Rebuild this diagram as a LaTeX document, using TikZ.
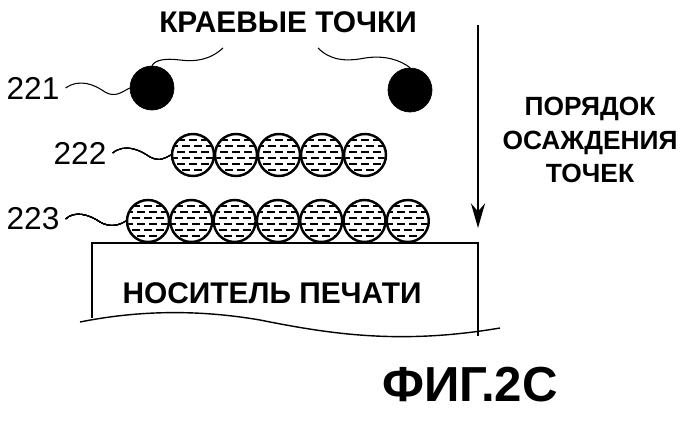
\documentclass[tikz,border=0pt]{standalone}
\usepackage{fontspec}
\setmainfont{Liberation Sans}
\usetikzlibrary{arrows.meta,calc}

\tikzset{
  lbl/.style={font=\bfseries\fontsize{17}{20}\selectfont},
  num/.style={font=\fontsize{18}{20}\selectfont},
  wire/.style={line width=0.6pt},
  ink/.style={draw, circle, line width=1.4pt, minimum size=0.84cm, inner sep=0pt},
}
% liquid dot with short dashes
\newcommand{\inkdot}[2]{%
  \node[ink] (#1) at #2 {};
  \begin{scope}
    \clip #2 circle (20);
    \foreach \yy/\sh in {-15/0,-9/5,-3/0,3/5,9/0,15/5}
      \foreach \xx in {-24,-12,0,12,24}
        \draw[line width=1pt] ($#2+(\xx+\sh-4,\yy)$) -- ++(8,0);
  \end{scope}}

\begin{document}
\begin{tikzpicture}[x=0.02cm,y=-0.02cm]
\useasboundingbox (0,0) rectangle (700,420);

% edge dots
\node[lbl] (edge) at (288,22) {КРАЕВЫЕ ТОЧКИ};
\node[draw, circle, fill=black, minimum size=0.88cm, inner sep=0pt] (d1) at (152,88) {};
\node[draw, circle, fill=black, minimum size=0.88cm, inner sep=0pt] (d2) at (410,90) {};
\draw[wire] (223,48) .. controls (210,60) and (195,62) .. (180,60) .. controls (165,58) and (155,60) .. (d1.north);
\draw[wire] (318,48) .. controls (330,60) and (345,62) .. (365,58) .. controls (385,55) and (400,60) .. (d2.north);

% labels
\node[num] (n221) at (33,88) {221};
\node[num] (n222) at (80,153) {222};
\node[num] (n223) at (33,219) {223};
\draw[wire] (n221.east) .. controls (80,78) and (95,85) .. (105,92) .. controls (115,98) and (122,92) .. (d1.west);

% second row
\foreach \i in {0,...,4}
  \inkdot{b\i}{(193+43*\i,155)}
\draw[wire] (n222.east) .. controls (125,143) and (140,150) .. (150,157) .. controls (160,162) and (165,158) .. (b0.west);

% third row
\foreach \i in {0,...,6}
  \inkdot{c\i}{(148+43.3*\i,221)}
\draw[wire] (n223.east) .. controls (75,210) and (90,215) .. (100,222) .. controls (110,228) and (120,225) .. (c0.west);

% medium
\draw[line width=1.3pt] (92,318) -- (92,243) -- (478,243) -- (478,336);
\draw[line width=0.8pt] (80,322) .. controls (130,312) and (190,308) .. (260,320) .. controls (330,334) and (400,345) .. (500,328);
\node[lbl] (media) at (272,293) {НОСИТЕЛЬ ПЕЧАТИ};

% order arrow
\coordinate (top) at (478,25);
\coordinate (bot) at (478,228);
\draw[line width=1.3pt, -{Stealth[length=14pt,width=8pt]}] (top) -- (bot);
\node[align=center, font=\bfseries\fontsize{15}{19}\selectfont] (order) at (590,140) {ПОРЯДОК\\ОСАЖДЕНИЯ\\ТОЧЕК};

\node[font=\bfseries\fontsize{28}{30}\selectfont] (fig) at (470,385) {ФИГ.2С};
\end{tikzpicture}
\end{document}
